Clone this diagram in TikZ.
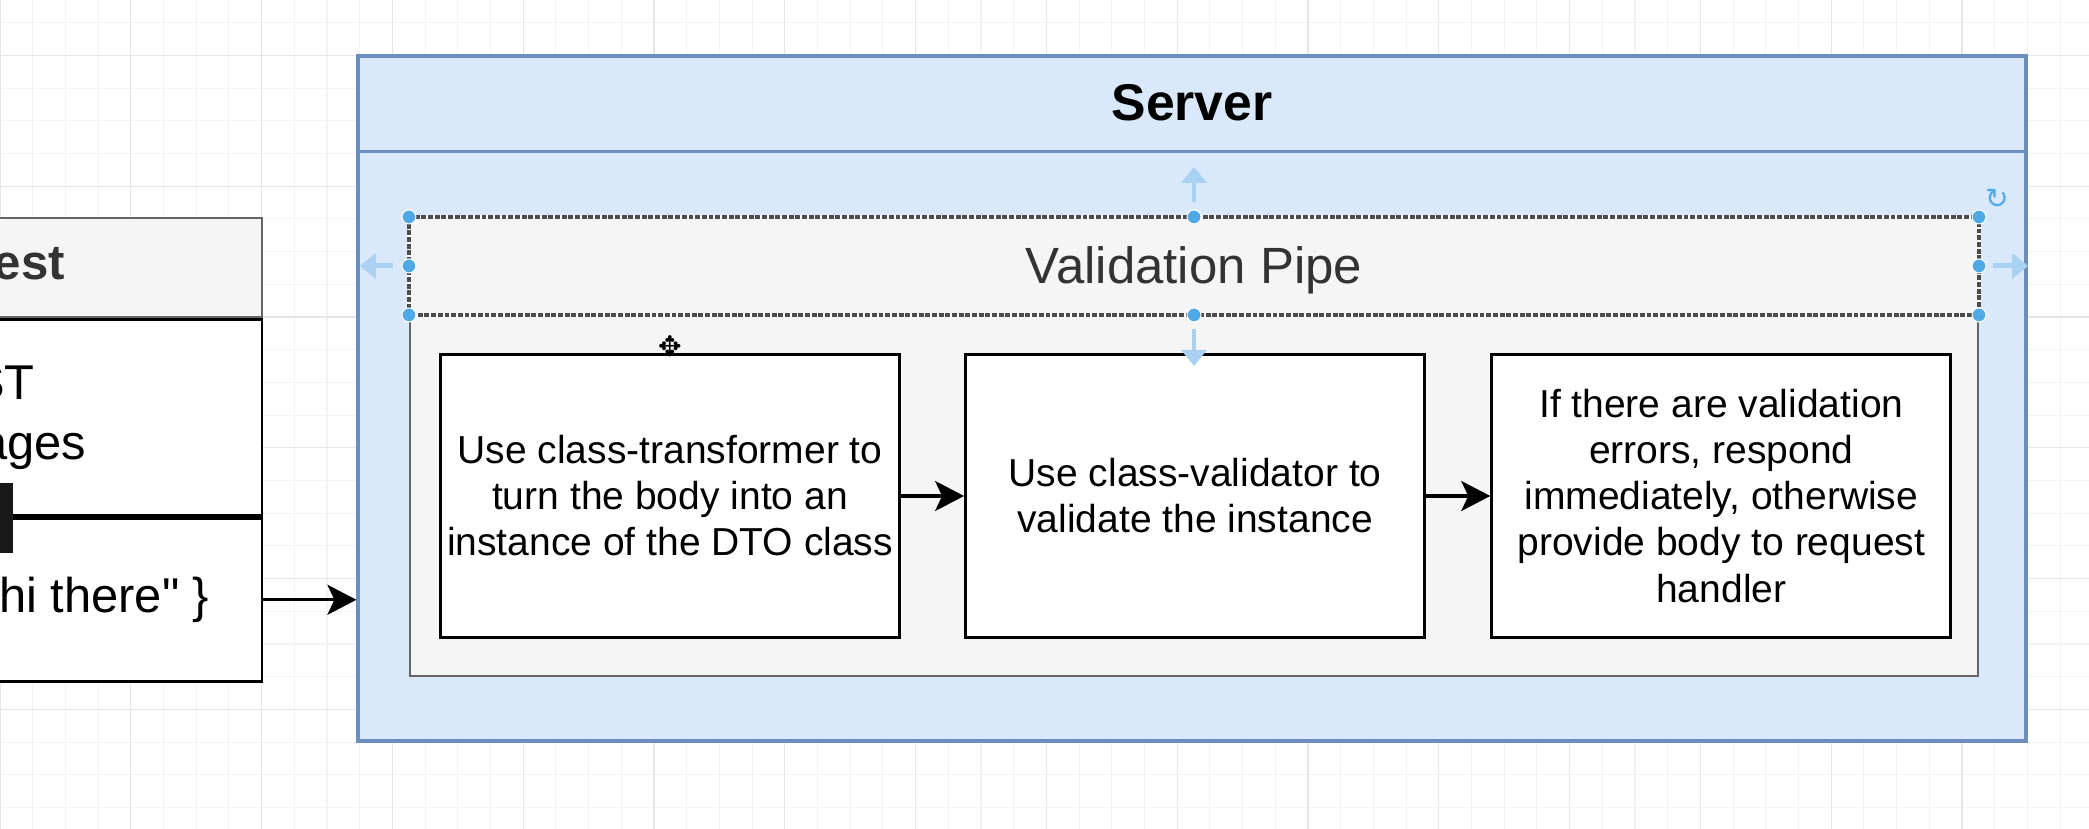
\documentclass[tikz,border=0pt]{standalone}
\usepackage{fontspec}
\setmainfont{Liberation Sans}[Ligatures=TeXOff]
\newfontfamily\symfont{DejaVu Sans}
\usetikzlibrary{arrows.meta, calc, positioning}
\definecolor{srvfill}{HTML}{DAE8FC}
\definecolor{srvline}{HTML}{6C8EBF}
\definecolor{pipefill}{HTML}{F5F5F5}
\definecolor{pipeline}{HTML}{666666}
\definecolor{pipetext}{HTML}{333333}
\definecolor{gridminor}{HTML}{F3F3F3}
\definecolor{gridmajor}{HTML}{E6E6E6}
\definecolor{handleblue}{HTML}{4EA9E6}
\definecolor{handlearr}{HTML}{A9D2F2}
\tikzset{
  % contenitore server
  srvbox/.style={draw=srvline, fill=srvfill, line width=0.9pt, inner sep=0pt},
  srvtitle/.style={font=\bfseries\fontsize{14.7}{17}\selectfont},
  % contenitore della pipe
  pipebox/.style={draw=pipeline, fill=pipefill, line width=0.6pt, inner sep=0pt},
  pipetitle/.style={text=pipetext, font=\fontsize{14.5}{17}\selectfont},
  % passo della validazione
  stepbox/.style={draw=black, fill=white, line width=0.9pt, minimum width=4.59cm,
    minimum height=2.83cm, align=center, inner sep=1pt, font=\fontsize{11.1}{13.1}\selectfont},
  % tabella della richiesta
  reqhead/.style={draw=pipeline, fill=pipefill, line width=0.6pt, minimum width=5.88cm,
    minimum height=0.99cm, text=pipetext, font=\bfseries\fontsize{14}{16}\selectfont},
  reqrow/.style={draw=black, fill=white, line width=0.8pt, minimum width=5.88cm,
    align=center, font=\fontsize{13.9}{17}\selectfont},
  reqtxt/.style={font=\fontsize{13.9}{17}\selectfont, inner sep=0pt},
  % collegamenti
  flow/.style={-{Stealth[length=2.9mm, width=3mm, inset=0.7mm]}, line width=0.9pt},
  % maniglie di selezione
  handledot/.style={fill=handleblue, draw=white, line width=0.3pt},
  handlearrow/.style={draw=handlearr, line width=1.4pt, -{Triangle[length=1.6mm, width=2.5mm]}},
}
\begin{document}
\begin{tikzpicture}
  \useasboundingbox (0,0) rectangle (20.89,-8.29);
  \clip (0,0) rectangle (20.89,-8.29);
  % griglia di sfondo
  \foreach \i in {0,...,63} \draw[gridminor, line width=0.3pt] (\i*0.327,0) -- (\i*0.327,-8.29);
  \foreach \j in {0,...,25} \draw[gridminor, line width=0.3pt] (0,-0.227-\j*0.327) -- (20.89,-0.227-\j*0.327);
  \foreach \i in {0,4,...,60} \draw[gridmajor, line width=0.3pt] (\i*0.327,0) -- (\i*0.327,-8.29);
  \foreach \j in {1,5,...,25} \draw[gridmajor, line width=0.3pt] (0,-0.227-\j*0.327) -- (20.89,-0.227-\j*0.327);
  % richiesta (tagliata a sinistra)
  \node[reqhead] (reqtitle) at (-0.32,-2.675) {Request};
  \node[reqrow, minimum height=1.96cm, below=0pt of reqtitle] (reqline) {POST\\/messages};
  \node[reqrow, minimum height=1.63cm, below=0pt of reqline] (reqbody) {};
  \node[reqtxt, anchor=east] (bodytxt) at (2.10,-6.0) {\{ content: "hi there" \}};
  \fill[black!90] (0,-4.83) rectangle (0.13,-5.53);
  % server
  \node[srvbox, minimum width=16.68cm, minimum height=6.85cm] (server) at (11.92,-3.985) {};
  \draw[srvline, line width=0.9pt] ($(server.north west)+(0,-0.97)$) -- ($(server.north east)+(0,-0.97)$);
  \node[srvtitle] (servertitle) at ($(server.north)+(0,-0.485)$) {Server};
  % validation pipe
  \node[pipebox, minimum width=15.68cm, minimum height=4.58cm] (pipe) at (11.94,-4.47) {};
  \coordinate (hdl) at ($(pipe.north west)+(0,-0.98)$);
  \coordinate (hdc) at ($(pipe.north)+(0,-0.98)$);
  \coordinate (hdr) at ($(pipe.north east)+(0,-0.98)$);
  \coordinate (hml) at ($(pipe.north west)+(0,-0.49)$);
  \coordinate (hmr) at ($(pipe.north east)+(0,-0.49)$);
  \draw[white, line width=0.9pt] (pipe.north west) rectangle (hdr);
  \draw[pipeline!75!black, line width=0.9pt, dash pattern=on 1.4pt off 0.5pt] (pipe.north west) rectangle (hdr);
  \node[pipetitle] (pipetitle) at ($(pipe.north)+(0,-0.53)$) {Validation Pipe};
  % passi
  \node[stepbox] (transform) at (6.70,-4.96) {Use class-transformer to\\turn the body into an\\instance of the DTO class};
  \node[stepbox, right=0.63cm of transform] (validate) {Use class-validator to\\validate the instance};
  \node[stepbox, right=0.64cm of validate] (respond) {If there are validation\\errors, respond\\immediately, otherwise\\provide body to request\\handler};
  \draw[flow] (transform) -- (validate);
  \draw[flow] (validate) -- (respond);
  \draw[flow] (reqbody.east) -- (reqbody.east -| server.west);
  % maniglie di selezione
  \draw[handlearrow] ($(pipe.north)+(0,0.15)$) -- ++(0,0.35);
  \draw[handlearrow] ($(hdc)+(0,-0.14)$) -- ++(0,-0.37);
  \draw[handlearrow] ($(hml)+(-0.16,0)$) -- ++(-0.33,0);
  \draw[handlearrow] ($(hmr)+(0.14,0)$) -- ++(0.35,0);
  \foreach \c in {pipe.north west, pipe.north, pipe.north east, hml, hmr, hdl, hdc, hdr}
    \filldraw[handledot] (\c) circle (0.07);
  \node[text=handleblue, font=\symfont\fontsize{8}{8}\selectfont] (rotate) at (19.97,-1.99) {↻};
  \node[font=\symfont\fontsize{8}{8}\selectfont] (cursor) at (6.70,-3.46) {✥};
\end{tikzpicture}
\end{document}
